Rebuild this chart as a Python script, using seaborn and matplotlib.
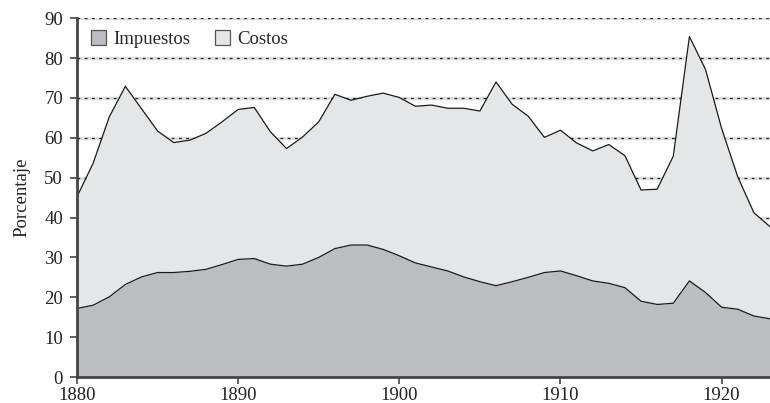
import numpy as np
import pandas as pd
import matplotlib
matplotlib.use("Agg")
import matplotlib.pyplot as plt
import seaborn as sns
from matplotlib.patches import Patch

# =========================
# Data
# =========================
years = list(range(1880, 1924))

impuestos = [17.2, 18.0, 20.1, 23.2, 25.1, 26.2, 26.2, 26.5, 27.0, 28.2,
             29.5, 29.7, 28.3, 27.8, 28.3, 30.0, 32.2, 33.1, 33.1, 32.0,
             30.4, 28.6, 27.6, 26.6, 25.1, 23.9, 22.9, 23.9, 25.0, 26.2,
             26.6, 25.4, 24.1, 23.5, 22.4, 19.0, 18.2, 18.5, 24.1, 21.2,
             17.5, 17.0, 15.3, 14.6]

# total (impuestos + costos), i.e. the upper line
total = [45.2, 53.6, 65.2, 72.9, 67.3, 61.7, 58.8, 59.4, 61.1, 64.0,
         67.1, 67.6, 61.5, 57.3, 60.2, 64.0, 70.9, 69.4, 70.4, 71.2,
         70.1, 67.9, 68.2, 67.4, 67.4, 66.7, 74.0, 68.4, 65.4, 60.1,
         61.9, 58.7, 56.7, 58.3, 55.5, 46.9, 47.1, 55.4, 85.4, 77.1,
         62.3, 50.2, 41.2, 37.7]

costos = [t - i for t, i in zip(total, impuestos)]

y_ticks = [0, 10, 20, 30, 40, 50, 60, 70, 80, 90]
x_ticks = [1880, 1890, 1900, 1910, 1920]

df = pd.DataFrame({"Año": years, "Impuestos": impuestos, "Costos": costos})
df["Total"] = df["Impuestos"] + df["Costos"]

# =========================
# Style
# =========================
sns.set_theme(style="ticks")
plt.rcParams["font.family"] = ["Liberation Serif", "DejaVu Serif"]
plt.rcParams["font.size"] = 13

col_imp = "#bcbdc1"
col_cos = "#e5e6e8"
axis_col = "#444444"

fig = plt.figure(figsize=(7.7, 4.03), dpi=100)
ax = fig.add_axes([0.1, 0.0645, 0.9, 0.8905])

# grid: light grey band with dark dashes on top, behind the areas
for yv in y_ticks[1:]:
    ax.axhline(yv, color="#dedede", lw=2.4, zorder=0)
    ax.axhline(yv, color="#222222", lw=0.9, linestyle=(0, (2.2, 3.6)), zorder=0.5)

# areas
ax.fill_between(df["Año"], 0, df["Impuestos"], color=col_imp, lw=0, zorder=1)
ax.fill_between(df["Año"], df["Impuestos"], df["Total"], color=col_cos, lw=0, zorder=1)

# outlines
sns.lineplot(data=df, x="Año", y="Impuestos", ax=ax, color="#1a1a1a", lw=0.9,
             zorder=2, legend=False)
sns.lineplot(data=df, x="Año", y="Total", ax=ax, color="#1a1a1a", lw=0.9,
             zorder=2, legend=False)

ax.set_xlim(1880, 1923)
ax.set_ylim(0, 90)
ax.set_xticks(x_ticks)
ax.set_yticks(y_ticks)
ax.set_xlabel("")
ax.set_ylabel("Porcentaje", fontsize=13.5, color="#222222", labelpad=10)

for side in ["top", "right"]:
    ax.spines[side].set_visible(False)
for side in ["left", "bottom"]:
    ax.spines[side].set_color(axis_col)
    ax.spines[side].set_linewidth(2.0)
    ax.spines[side].set_zorder(3)

ax.tick_params(axis="both", colors=axis_col, labelcolor="#222222",
               labelsize=13.5, width=1.2, length=5, direction="out")
ax.tick_params(axis="y", pad=5)
ax.tick_params(axis="x", pad=2)

# legend
handles = [Patch(facecolor=col_imp, edgecolor="#555555", lw=0.9, label="Impuestos"),
           Patch(facecolor=col_cos, edgecolor="#555555", lw=0.9, label="Costos")]
ax.legend(handles=handles, loc="upper left", ncol=2, frameon=False,
          fontsize=13.5, handlelength=0.8, handleheight=0.8, handletextpad=0.4,
          columnspacing=1.3, bbox_to_anchor=(0.0, 1.005), borderaxespad=0.35)

fig.savefig("out.png", dpi=100)
